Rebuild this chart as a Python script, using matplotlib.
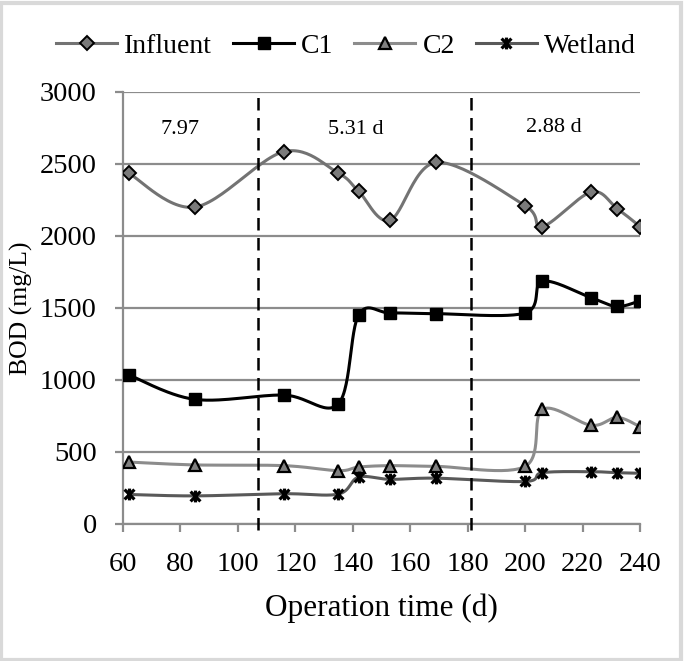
import numpy as np
import matplotlib
matplotlib.use("Agg")
import matplotlib.pyplot as plt
from matplotlib.path import Path
from matplotlib.patches import Rectangle

plt.rcParams['font.family'] = ['Liberation Serif', 'DejaVu Serif']

# Operation time (d) of each sampling day
days = [62, 85, 116, 135, 142, 153, 169, 200, 206, 223, 232, 240]

# BOD (mg/L)
influent = [2435, 2200, 2585, 2435, 2310, 2110, 2510, 2210, 2065, 2305, 2190, 2065]
c1 = [1035, 865, 895, 835, 1450, 1465, 1460, 1465, 1685, 1570, 1510, 1550]
c2 = [430, 410, 405, 370, 395, 405, 400, 400, 795, 685, 740, 675]
wetland = [205, 195, 210, 208, 325, 310, 318, 295, 356, 363, 356, 352]

# HRT periods
hrt_bounds = [107, 181]
hrt_labels = ['7.97', '5.31 d', '2.88 d']
hrt_label_x = [80, 141, 210]
hrt_label_y = [2740, 2740, 2750]


def smooth(x, y, n=30):
    # excel-like smoothed line (cubic bezier, catmull-rom control points)
    x = np.asarray(x, float)
    y = np.asarray(y, float)
    pts = np.column_stack([x, y])
    out = [pts[0]]
    t = np.linspace(0, 1, n)[1:, None]
    for i in range(len(pts) - 1):
        p0 = pts[max(i - 1, 0)]
        p1 = pts[i]
        p2 = pts[i + 1]
        p3 = pts[min(i + 2, len(pts) - 1)]
        c1_ = p1 + (p2 - p0) / 6
        c2_ = p2 - (p3 - p1) / 6
        seg = ((1 - t) ** 3) * p1 + 3 * ((1 - t) ** 2) * t * c1_ \
            + 3 * (1 - t) * t ** 2 * c2_ + t ** 3 * p2
        out.extend(seg)
    out = np.array(out)
    return out[:, 0], out[:, 1]


# star marker like excel (x with a vertical bar)
star = Path([(-1, -1), (1, 1), (-1, 1), (1, -1), (0, -1.2), (0, 1.2)],
            [Path.MOVETO, Path.LINETO, Path.MOVETO, Path.LINETO,
             Path.MOVETO, Path.LINETO])

fig = plt.figure(figsize=(6.85, 6.61), dpi=100)
ax = fig.add_axes([0.1796, 0.2073, 0.7548, 0.6537])

series = [
    ('Influent', influent, '#737373', dict(marker='D', markersize=7, markerfacecolor='#7a7a7a',
                                           markeredgecolor='black', markeredgewidth=1.4)),
    ('C1', c1, 'black', dict(marker='s', markersize=8.5, markerfacecolor='black',
                             markeredgecolor='black')),
    ('C2', c2, '#8c8c8c', dict(marker='^', markersize=8, markerfacecolor='#808080',
                               markeredgecolor='black', markeredgewidth=1.6)),
    ('Wetland', wetland, '#595959', dict(marker=star, markersize=8.5, markeredgecolor='black',
                                         markeredgewidth=2.3)),
]

for name, vals, col, mk in series:
    sx, sy = smooth(days, vals)
    ax.plot(sx, sy, color=col, lw=2.2, zorder=3)
    ax.plot(days, vals, linestyle='none', zorder=4, **mk)
    # legend proxy
    ax.plot([], [], color=col, lw=2.2, label=name, **mk)

for xb in hrt_bounds:
    ax.axvline(xb, ymin=-0.015, ymax=1, color='black', lw=1.8,
               linestyle=(0, (5, 3)), clip_on=False, zorder=5)

for txt, tx, ty in zip(hrt_labels, hrt_label_x, hrt_label_y):
    ax.text(tx, ty, txt, ha='center', va='center', fontsize=16)

ax.set_xlim(60, 240)
ax.set_ylim(0, 3000)
ax.set_xticks(np.arange(60, 241, 20))
ax.set_yticks(np.arange(0, 3001, 500))
ax.yaxis.grid(True, color='#8c8c8c', lw=1.6)
ax.set_axisbelow(True)
for s in ['top', 'right']:
    ax.spines[s].set_visible(False)
for s in ['left', 'bottom']:
    ax.spines[s].set_color('#8c8c8c')
    ax.spines[s].set_linewidth(1.6)
ax.tick_params(axis='both', direction='out', length=6, width=1.6, color='#8c8c8c',
               labelsize=20.5)
ax.tick_params(axis='y', pad=13)
ax.tick_params(axis='x', pad=14)

ax.set_xlabel('Operation time (d)', fontsize=22.5, labelpad=12)
ax.set_ylabel('BOD (mg/L)', fontsize=18.5)
ax.yaxis.set_label_coords(-0.174, 0.5)

fig.legend(loc='center', bbox_to_anchor=(0.505, 0.93), ncol=4, frameon=False,
           fontsize=20, handlelength=2.2, handletextpad=0.25, columnspacing=0.75)

fig.patches.append(Rectangle((0.002, 0.002), 0.992, 0.994, transform=fig.transFigure,
                             fill=False, edgecolor='#d9d9d9', lw=3))

fig.savefig('out.png', dpi=100)
